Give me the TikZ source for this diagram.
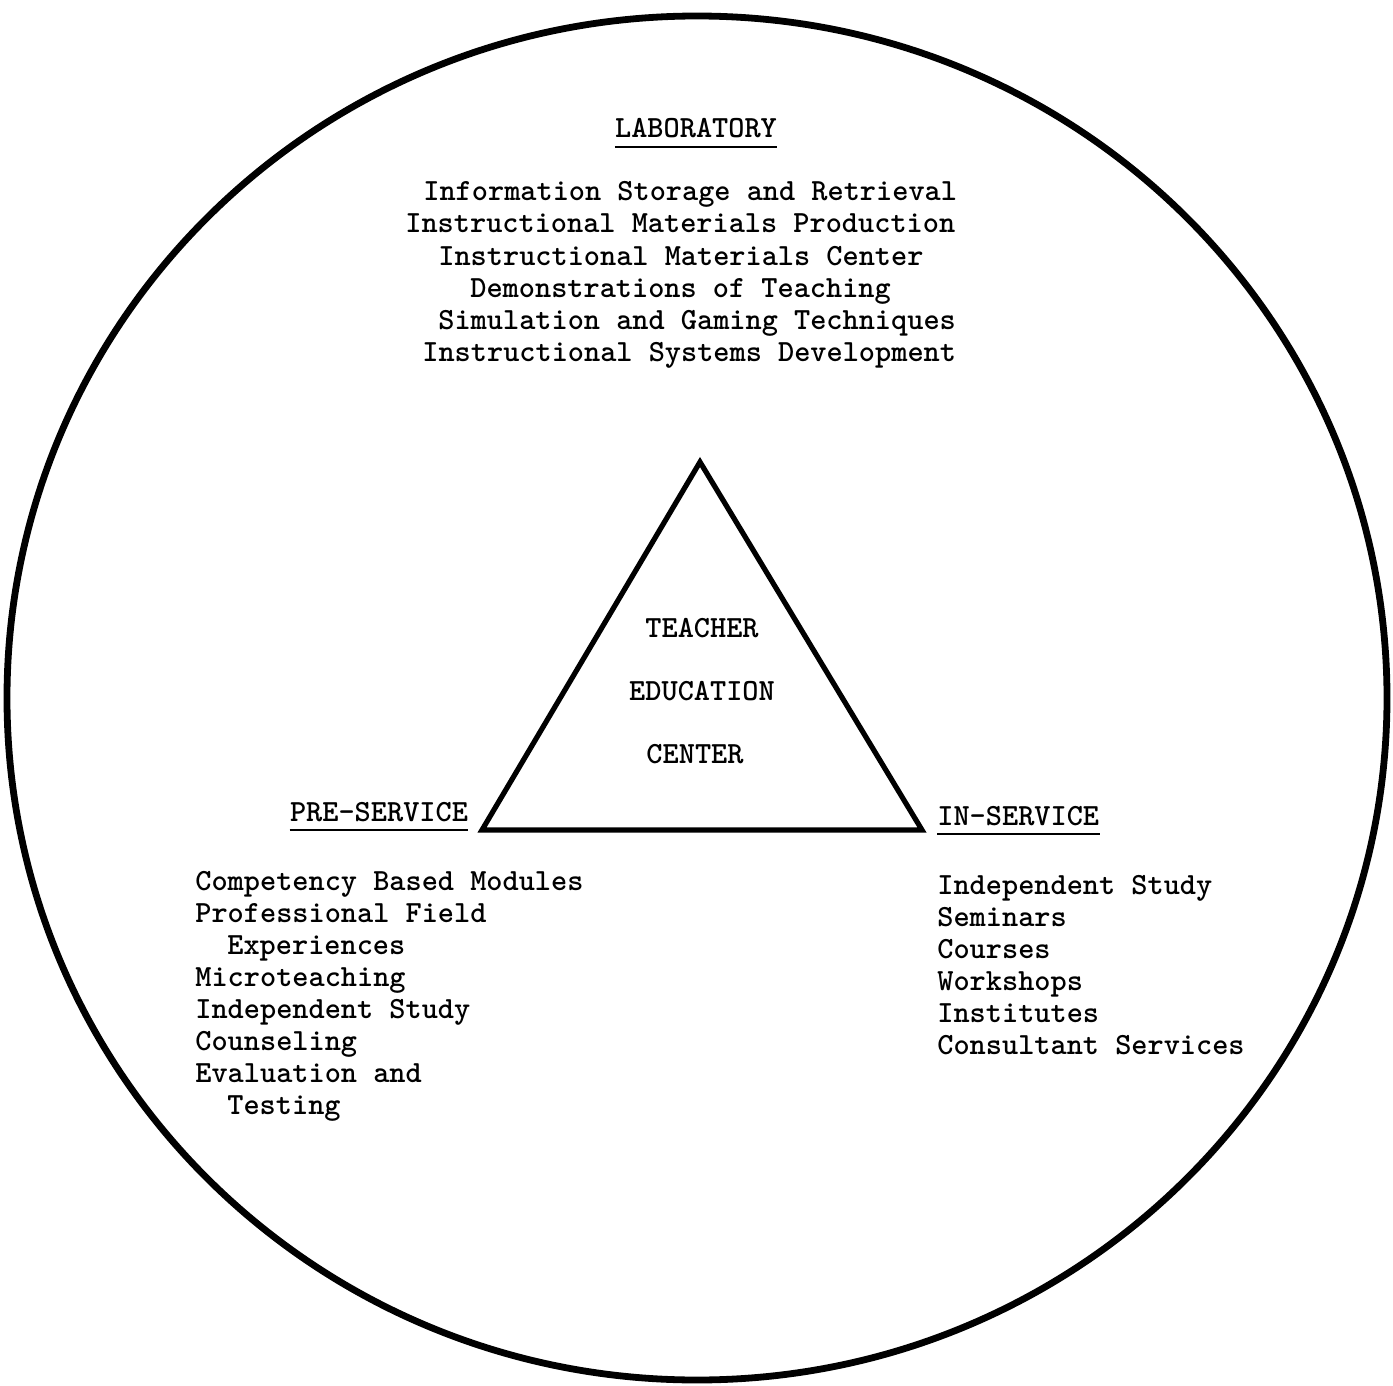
\documentclass[tikz,border=0pt]{standalone}
\usepackage{tikz}
\usetikzlibrary{positioning}

\newcommand{\typewr}{\ttfamily\bfseries\fontsize{15.4pt}{16pt}\selectfont}

\begin{document}
\begin{tikzpicture}[x=0.5pt, y=-0.5pt,
    item/.style={anchor=base west, inner sep=0pt, font=\typewr},
    head/.style={anchor=base, inner sep=0pt, font=\typewr},
    uline/.style={line width=1.4pt},
]
\useasboundingbox (0,0) rectangle (1393,1386);

% outer ring and triangle
\draw[line width=3.4pt] (697,698) ellipse [x radius=690, y radius=682];
\coordinate (apex) at (700,462);
\coordinate (bl)   at (482,830);
\coordinate (br)   at (922,830);
\draw[line width=2.6pt] (apex) -- (bl) -- (br) -- cycle;

\node[head] (tea) at (702,637) {TEACHER};
\node[head] (edu) at (702,700) {EDUCATION};
\node[head] (cen) at (695,763) {CENTER};

% laboratory
\node[head] (lab) at (696,138) {LABORATORY};
\draw[uline] ([yshift=-4.5pt]lab.base west) -- ([yshift=-4.5pt]lab.base east);
\node[item] (lab1) at (423,200) {Information Storage and Retrieval};
\node[item] (lab2) at (405,232) {Instructional Materials Production};
\node[item] (lab3) at (438,265) {Instructional Materials Center};
\node[item] (lab4) at (470,297) {Demonstrations of Teaching};
\node[item] (lab5) at (438,329) {Simulation and Gaming Techniques};
\node[item] (lab6) at (422,361) {Instructional Systems Development};

% pre-service
\node[head] (pre) at (379,821) {PRE-SERVICE};
\draw[uline] ([yshift=-4.5pt]pre.base west) -- ([yshift=-4.5pt]pre.base east);
\node[item] (pre1) at (195,890)  {Competency Based Modules};
\node[item] (pre2) at (195,922)  {Professional Field};
\node[item] (pre3) at (227,954)  {Experiences};
\node[item] (pre4) at (195,986)  {Microteaching};
\node[item] (pre5) at (195,1018) {Independent Study};
\node[item] (pre6) at (195,1050) {Counseling};
\node[item] (pre7) at (195,1082) {Evaluation and};
\node[item] (pre8) at (227,1114) {Testing};

% in-service
\node[item] (ins) at (937,825) {IN-SERVICE};
\draw[uline] ([yshift=-4.5pt]ins.base west) -- ([yshift=-4.5pt]ins.base east);
\node[item] (ins1) at (937,894)  {Independent Study};
\node[item] (ins2) at (937,926)  {Seminars};
\node[item] (ins3) at (937,958)  {Courses};
\node[item] (ins4) at (937,990)  {Workshops};
\node[item] (ins5) at (937,1022) {Institutes};
\node[item] (ins6) at (937,1054) {Consultant Services};
\end{tikzpicture}
\end{document}
